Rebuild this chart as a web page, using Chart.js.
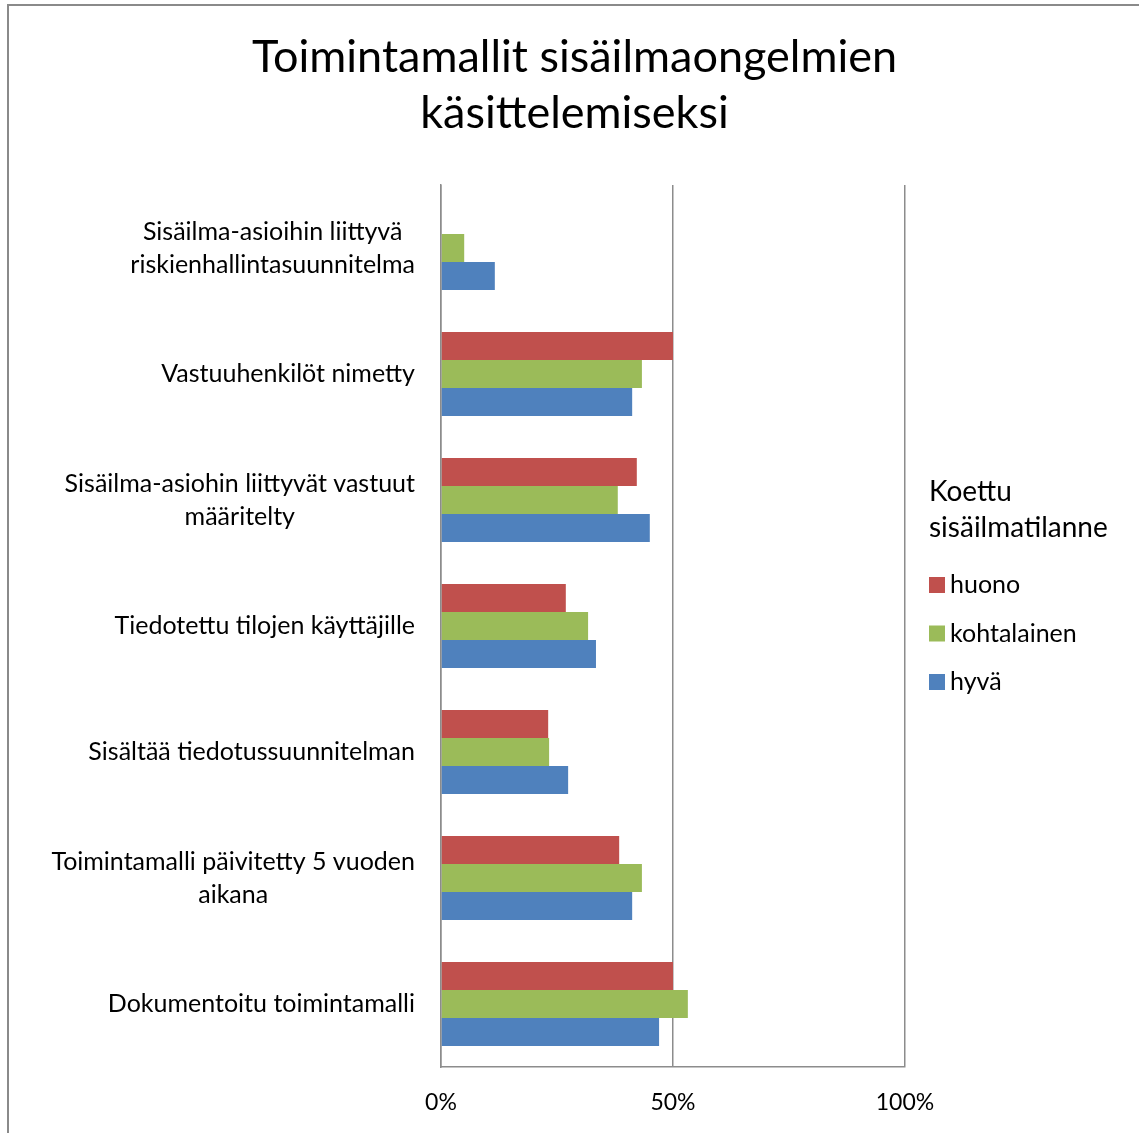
<!DOCTYPE html>
<html>
<head>
<meta charset="utf-8">
<script src="https://cdn.jsdelivr.net/npm/chart.js@4"></script>
<style>
body { margin: 0; background: #fff; overflow: hidden; }
#frame { position: absolute; left: 7px; top: 4px; width: 1300px; height: 1300px;
         border-left: 2px solid #8a8a8a; border-top: 2px solid #8a8a8a; }
#chart { position: absolute; left: 0; top: 0; }
</style>
</head>
<body>
<div id="frame"></div>
<canvas id="chart" width="1139" height="1133"></canvas>
<script>
// categories, top to bottom (multi-line labels as arrays)
var categories = [
    ['Sisäilma-asioihin liittyvä', 'riskienhallintasuunnitelma'],
    ['Vastuuhenkilöt nimetty'],
    ['Sisäilma-asiohin liittyvät vastuut', 'määritelty'],
    ['Tiedotettu tilojen käyttäjille'],
    ['Sisältää tiedotussuunnitelman'],
    ['Toimintamalli päivitetty 5 vuoden', 'aikana'],
    ['Dokumentoitu toimintamalli']
];
var seriesNames = ['huono', 'kohtalainen', 'hyvä'];
var huono = [0, 50, 42.2, 26.9, 23.1, 38.4, 50];
var kohtalainen = [5, 43.3, 38.1, 31.7, 23.3, 43.3, 53.2];
var hyva = [11.6, 41.2, 45, 33.4, 27.4, 41.2, 47];
var xTicks = [0, 50, 100];
var colors = ['#C0504D', '#9BBB59', '#4F81BD'];
var titleLines = ['Toimintamallit sisäilmaongelmien', 'käsittelemiseksi'];
var legendTitle = ['Koettu', 'sisäilmatilanne'];

var FONT = 'Lato, "Open Sans", sans-serif';

// title centred on the whole canvas
var bigTitle = {
    id: 'bigTitle',
    afterDraw: function (chart) {
        var ctx = chart.ctx;
        ctx.save();
        ctx.font = '45px ' + FONT;
        ctx.fillStyle = '#000';
        ctx.textAlign = 'center';
        ctx.textBaseline = 'middle';
        titleLines.forEach(function (t, i) {
            ctx.fillText(t, chart.width / 2 + 5, 57 + i * 56);
        });
        ctx.restore();
    }
};

// category labels: right-aligned block, lines centred inside it
var yLabels = {
    id: 'yLabels',
    afterDraw: function (chart) {
        var ctx = chart.ctx;
        var y = chart.scales.y;
        var right = chart.chartArea.left - 26;
        ctx.save();
        ctx.font = '25px ' + FONT;
        ctx.fillStyle = '#000';
        ctx.textBaseline = 'middle';
        ctx.textAlign = 'center';
        var lh = 33;
        for (var i = 0; i < categories.length; i++) {
            var lines = categories[i];
            var w = 0;
            for (var j = 0; j < lines.length; j++) {
                w = Math.max(w, ctx.measureText(lines[j]).width);
            }
            var cy = y.getPixelForTick(i);
            for (var j = 0; j < lines.length; j++) {
                ctx.fillText(lines[j], right - w / 2, cy + (j - (lines.length - 1) / 2) * lh);
            }
        }
        ctx.restore();
    }
};

// legend on the right with a two line title
var sideLegend = {
    id: 'sideLegend',
    afterDraw: function (chart) {
        var ctx = chart.ctx;
        var x = chart.chartArea.right + 24;
        ctx.save();
        ctx.fillStyle = '#000';
        ctx.textBaseline = 'middle';
        ctx.textAlign = 'left';
        ctx.font = '28px ' + FONT;
        legendTitle.forEach(function (t, i) {
            ctx.fillText(t, x, 492 + i * 36);
        });
        ctx.font = '25px ' + FONT;
        chart.data.datasets.forEach(function (ds, i) {
            var cy = 585 + i * 48.5;
            ctx.fillStyle = ds.backgroundColor;
            ctx.fillRect(x, cy - 8, 16, 16);
            ctx.fillStyle = '#000';
            ctx.fillText(ds.label, x + 21, cy);
        });
        ctx.restore();
    }
};

new Chart(document.getElementById('chart'), {
    type: 'bar',
    data: {
        labels: categories.map(function (c) { return c.join(' '); }),
        datasets: [
            { label: seriesNames[0], data: huono, backgroundColor: colors[0] },
            { label: seriesNames[1], data: kohtalainen, backgroundColor: colors[1] },
            { label: seriesNames[2], data: hyva, backgroundColor: colors[2] }
        ]
    },
    options: {
        indexAxis: 'y',
        responsive: false,
        animation: false,
        devicePixelRatio: 1,
        categoryPercentage: 0.668,
        barPercentage: 1,
        layout: { padding: { left: 0, right: 234, top: 185, bottom: 0 } },
        plugins: {
            legend: { display: false },
            tooltip: { enabled: false },
            title: { display: false }
        },
        scales: {
            x: {
                min: 0,
                max: 100,
                afterBuildTicks: function (s) {
                    s.ticks = xTicks.map(function (v) { return { value: v }; });
                },
                afterFit: function (s) { s.height = 66; },
                grid: { color: '#8c8c8c', lineWidth: 1.5, drawTicks: false },
                border: { color: '#8c8c8c', width: 1.5 },
                ticks: {
                    padding: 22,
                    color: '#000',
                    font: { family: FONT, size: 23 },
                    callback: function (v) { return v + '%'; }
                }
            },
            y: {
                afterFit: function (s) { s.width = 441; },
                grid: { display: false },
                border: { color: '#8c8c8c', width: 1.5 },
                ticks: { display: false }
            }
        }
    },
    plugins: [bigTitle, yLabels, sideLegend]
});
</script>
</body>
</html>
